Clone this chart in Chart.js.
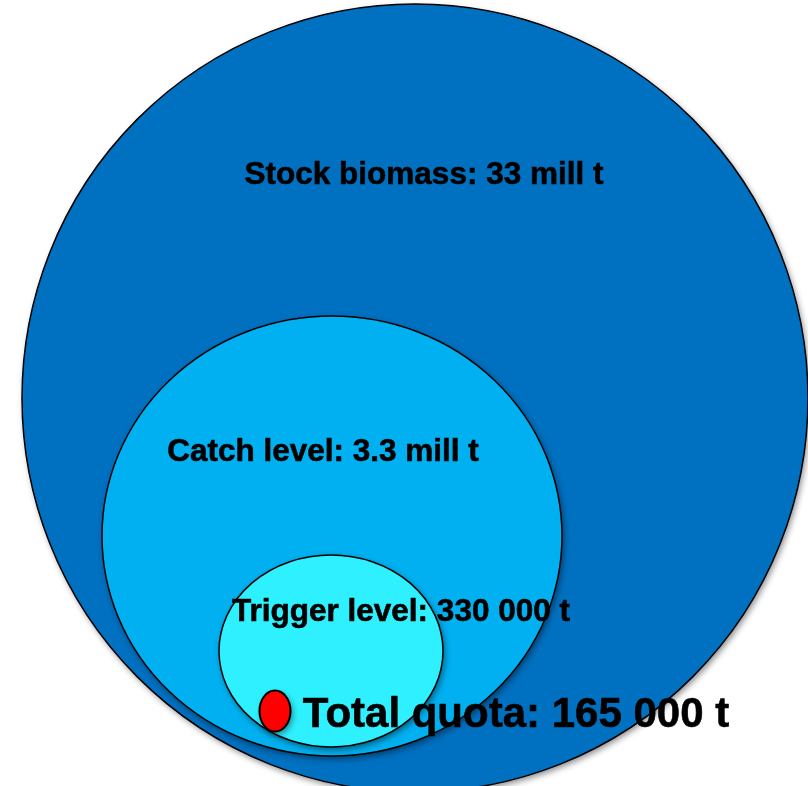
<!DOCTYPE html>
<html>
<head>
<meta charset="utf-8">
<script src="https://cdn.jsdelivr.net/npm/chart.js@4.4.0/dist/chart.umd.min.js"></script>
<style>
  html, body { margin: 0; padding: 0; background: #fff; }
  #wrap { width: 808px; height: 786px; position: relative; }
</style>
</head>
<body>
<div id="wrap"><canvas id="quotaChart"></canvas></div>
<script>
// what each ring stands for
const categories = ['Stock biomass', 'Catch level', 'Trigger level', 'Total quota'];
const amounts = ['33 mill t', '3.3 mill t', '330 000 t', '165 000 t'];
const tonnes = [33000000, 3300000, 330000, 165000];

// ring geometry in diagram units (not to scale with the tonnes)
const centerX = [415, 332, 331, 275];
const centerY = [398, 536, 651, 711];
const radiusX = [393, 230, 112, 15.5];
const radiusY = [394, 220, 96, 20.5];

// where the text sits (baseline, centred)
const labelX = [424, 323, 401, 516];
const labelY = [184, 461, 621, 727];

const fills = ['#0070C0', '#00B0F0', '#2EF0FF', '#FF0000'];

function ellipseStyle(chart, i) {
  const xs = chart.scales.x;
  const ys = chart.scales.y;
  const rx = Math.max(1, Math.abs(xs.getPixelForValue(centerX[i] + radiusX[i]) - xs.getPixelForValue(centerX[i])));
  const ry = Math.max(1, Math.abs(ys.getPixelForValue(centerY[i] + radiusY[i]) - ys.getPixelForValue(centerY[i])));
  const pad = 12;
  const c = document.createElement('canvas');
  c.width = 2 * Math.ceil(rx + pad);
  c.height = 2 * Math.ceil(ry + pad);
  const g = c.getContext('2d');
  g.beginPath();
  g.ellipse(c.width / 2, c.height / 2, rx, ry, 0, 0, Math.PI * 2);
  g.shadowColor = 'rgba(0,0,0,0.45)';
  g.shadowBlur = 6;
  g.shadowOffsetX = 2;
  g.shadowOffsetY = 3;
  g.fillStyle = fills[i];
  g.fill();
  g.shadowColor = 'transparent';
  g.lineWidth = i === 3 ? 2 : 1.5;
  g.strokeStyle = '#000';
  g.stroke();
  return c;
}

const labelPlugin = {
  id: 'ringLabels',
  afterDatasetsDraw(chart) {
    const ctx = chart.ctx;
    const xs = chart.scales.x;
    const ys = chart.scales.y;
    ctx.save();
    ctx.fillStyle = '#000';
    ctx.strokeStyle = '#000';
    ctx.lineWidth = 0.6;
    ctx.lineJoin = 'round';
    ctx.textAlign = 'center';
    ctx.textBaseline = 'alphabetic';
    categories.forEach((cat, i) => {
      const size = i === 3 ? 42 : 31.5;
      const text = cat + ': ' + amounts[i];
      const px = xs.getPixelForValue(labelX[i]);
      const py = ys.getPixelForValue(labelY[i]);
      ctx.font = 'bold ' + size + 'px "Liberation Sans", Arial, sans-serif';
      ctx.fillText(text, px, py);
      ctx.strokeText(text, px, py);
    });
    ctx.restore();
  }
};

new Chart(document.getElementById('quotaChart'), {
  type: 'bubble',
  data: {
    labels: categories,
    datasets: [{
      label: 'Tonnes',
      data: categories.map((c, i) => ({ x: centerX[i], y: centerY[i], r: radiusY[i], t: tonnes[i] })),
      pointStyle: (ctx) => ellipseStyle(ctx.chart, ctx.dataIndex),
      clip: false
    }]
  },
  options: {
    responsive: true,
    maintainAspectRatio: false,
    animation: false,
    events: [],
    layout: { padding: 0, autoPadding: false },
    plugins: {
      legend: { display: false },
      tooltip: { enabled: false }
    },
    scales: {
      x: { type: 'linear', min: 0, max: 808, display: false },
      y: { type: 'linear', min: 0, max: 786, reverse: true, display: false }
    }
  },
  plugins: [labelPlugin]
});
</script>
</body>
</html>
